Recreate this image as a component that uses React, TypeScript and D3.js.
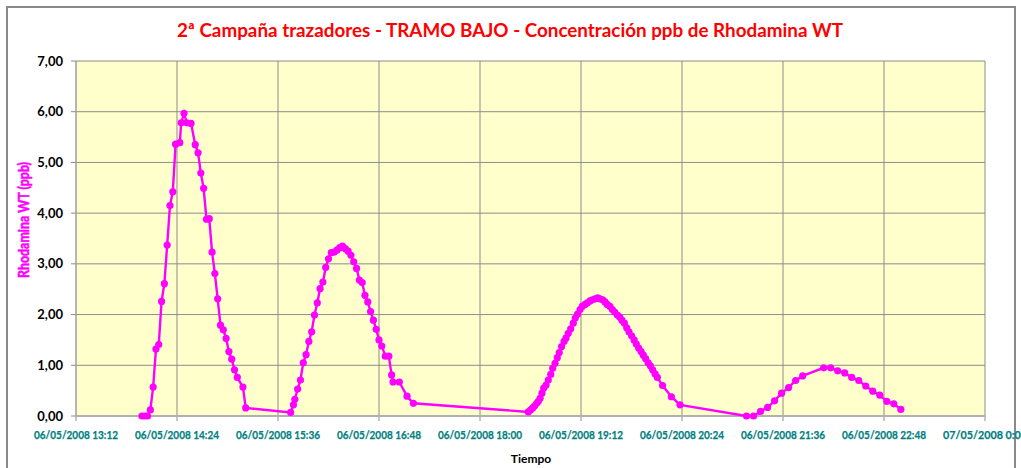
import React from 'react';
import * as d3 from 'd3';

// 2ª campaña trazadores, tramo bajo - Rhodamina WT (ppb), 06/05/2008
const tiempos = [
  '13:59', '14:01', '14:03', '14:05', '14:07', '14:09', '14:11', '14:13', '14:15', '14:17',
  '14:19', '14:21', '14:23', '14:26', '14:27', '14:29', '14:31', '14:34', '14:37', '14:39',
  '14:41', '14:43', '14:45', '14:47', '14:49', '14:51', '14:53', '14:55', '14:57', '14:59',
  '15:01', '15:03', '15:05', '15:07', '15:11', '15:13',
  '15:45', '15:47', '15:48', '15:50', '15:52', '15:54', '15:56', '15:58', '16:00', '16:02',
  '16:04', '16:06', '16:08', '16:10', '16:12', '16:14', '16:16', '16:18', '16:20', '16:22',
  '16:24', '16:26', '16:28', '16:30', '16:32', '16:34', '16:36', '16:38', '16:40', '16:42',
  '16:44', '16:46', '16:48', '16:50', '16:52:30', '16:55', '16:57', '16:58', '17:02:30', '17:08',
  '17:12:30',
  '18:34:25', '18:36:05', '18:37:35', '18:39:00', '18:40:25', '18:41:35', '18:42:50', '18:44:10',
  '18:45:25', '18:47:05', '18:48:40', '18:50:25', '18:51:50', '18:53:30', '18:55:05', '18:56:30',
  '18:58:10', '18:59:55', '19:01:20', '19:02:55', '19:04:40', '19:06:30', '19:07:55', '19:09:35',
  '19:11:20', '19:12:55', '19:14:50', '19:16:30', '19:18:25', '19:20:05', '19:22:00', '19:23:55',
  '19:25:30', '19:27:30', '19:29:05', '19:30:40', '19:32:40', '19:34:20', '19:36:00', '19:37:55',
  '19:39:35', '19:41:10', '19:42:55', '19:44:35', '19:46:10', '19:48:05', '19:49:50', '19:51:25',
  '19:53:05', '19:54:50', '19:56:25', '19:58:05', '19:59:50', '20:01:25', '20:03:05', '20:04:50',
  '20:06:25', '20:10:10', '20:16:25', '20:22:35',
  '21:10', '21:15', '21:20', '21:25', '21:30', '21:35', '21:40', '21:45', '21:50', '22:05',
  '22:10', '22:15', '22:20', '22:25', '22:30', '22:35', '22:40', '22:45', '22:50', '22:55',
  '23:00',
];

const rhodamina = [
  0.00, 0.00, 0.00, 0.12, 0.57, 1.32, 1.41, 2.26, 2.61, 3.37,
  4.15, 4.42, 5.36, 5.39, 5.78, 5.97, 5.78, 5.77, 5.35, 5.19,
  4.79, 4.49, 3.88, 3.89, 3.23, 2.81, 2.31, 1.79, 1.70, 1.53,
  1.27, 1.12, 0.91, 0.76, 0.57, 0.16,
  0.07, 0.22, 0.33, 0.53, 0.71, 1.05, 1.21, 1.47, 1.66, 1.99,
  2.23, 2.51, 2.64, 2.93, 3.10, 3.22, 3.23, 3.27, 3.32, 3.35,
  3.30, 3.25, 3.17, 3.04, 2.91, 2.68, 2.63, 2.38, 2.25, 2.06,
  1.89, 1.71, 1.50, 1.38, 1.18, 1.18, 0.81, 0.67, 0.67, 0.39,
  0.25,
  0.08, 0.12, 0.16, 0.20, 0.25, 0.29, 0.35, 0.45,
  0.55, 0.61, 0.71, 0.82, 0.94, 1.04, 1.15, 1.25,
  1.37, 1.47, 1.54, 1.63, 1.72, 1.83, 1.93, 2.01,
  2.10, 2.16, 2.20, 2.23, 2.27, 2.29, 2.31, 2.33,
  2.31, 2.29, 2.25, 2.20, 2.16, 2.10, 2.05, 1.99,
  1.95, 1.89, 1.83, 1.74, 1.66, 1.58, 1.50, 1.42,
  1.34, 1.27, 1.20, 1.13, 1.05, 0.99, 0.91, 0.83,
  0.76, 0.60, 0.38, 0.22,
  0.00, 0.00, 0.09, 0.17, 0.30, 0.45, 0.56, 0.70, 0.79, 0.95,
  0.95, 0.89, 0.85, 0.76, 0.70, 0.59, 0.49, 0.41, 0.29, 0.24,
  0.13,
];

const xTickLabels = [
  '06/05/2008 13:12', '06/05/2008 14:24', '06/05/2008 15:36', '06/05/2008 16:48',
  '06/05/2008 18:00', '06/05/2008 19:12', '06/05/2008 20:24', '06/05/2008 21:36',
  '06/05/2008 22:48', '07/05/2008 0:00',
];
const yTicks = [0, 1, 2, 3, 4, 5, 6, 7];

const titulo = '2ª Campaña trazadores - TRAMO BAJO - Concentración ppb de Rhodamina WT';

const W = 1021;
const H = 468;
const margin = {left: 76, right: 36, top: 61, bottom: 52};
const font = 'Lato, "Liberation Sans", sans-serif';

const parseTick = d3.timeParse('%d/%m/%Y %H:%M');
const parseHora = (t: string) => {
  const [h, m, s] = t.split(':').map(Number);
  return new Date(2008, 4, 6, h, m, s || 0);
};
const fmtY = d3.formatLocale({decimal: ',', thousands: '.', grouping: [3], currency: ['', '€']}).format('.2f');

export default function App() {
  const ticks = xTickLabels.map((l) => parseTick(l) as Date);
  const x = d3.scaleTime()
    .domain([ticks[0], ticks[ticks.length - 1]])
    .range([margin.left, W - margin.right]);
  const y = d3.scaleLinear().domain([0, 7]).range([H - margin.bottom, margin.top]);

  const puntos = tiempos.map((t, i) => ({t: parseHora(t), v: rhodamina[i]}));
  const linea = d3.line<{t: Date; v: number}>()
    .x((d) => x(d.t))
    .y((d) => y(d.v));

  const [x0, x1] = x.range();
  const [y0, y1] = y.range();
  const grid = '#8c8c8c';

  return (
    <svg width={W} height={H} style={{position: 'absolute', left: 0, top: 0, background: '#fff'}}>
      <rect x={7} y={7} width={1008} height={480} fill="#fff" stroke="#8a8a8a" strokeWidth={2} />
      <text x={510} y={37} textAnchor="middle" fill="#ff0000" fontFamily={font} fontWeight="bold"
        fontSize={19} textLength={666} lengthAdjust="spacingAndGlyphs">{titulo}</text>

      <rect x={x0} y={y1} width={x1 - x0} height={y0 - y1} fill="#ffffcc" />
      {yTicks.map((v) => (
        <line key={'gy' + v} x1={x0} x2={x1} y1={y(v)} y2={y(v)} stroke={grid} strokeWidth={1} />
      ))}
      {ticks.map((t, i) => (
        <line key={'gx' + i} x1={x(t)} x2={x(t)} y1={y1} y2={y0 + 5} stroke={grid} strokeWidth={1} />
      ))}
      <line x1={x0} x2={x1} y1={y0} y2={y0} stroke="#b0b0b0" strokeWidth={2} />
      <line x1={x0} x2={x0} y1={y1} y2={y0} stroke="#b0b0b0" strokeWidth={1.5} />

      {yTicks.map((v) => (
        <g key={'ty' + v}>
          <line x1={x0 - 5} x2={x0} y1={y(v)} y2={y(v)} stroke={grid} />
          <text x={63} y={y(v)} dy="0.35em" textAnchor="end" fontFamily={font} fontWeight="bold"
            fontSize={13} fill="#000">{fmtY(v)}</text>
        </g>
      ))}
      {ticks.map((t, i) => (
        <text key={'tx' + i} x={x(t)} y={439} textAnchor="middle" fontFamily={font} fontWeight="bold"
          fontSize={11.5} textLength={84} lengthAdjust="spacingAndGlyphs" fill="#008080"
          stroke="#008080" strokeWidth={0.25}>{xTickLabels[i]}</text>
      ))}

      <text transform={`translate(29,220) rotate(-90)`} textAnchor="middle" fontFamily={font}
        fontWeight="bold" fontSize={16} textLength={116} lengthAdjust="spacingAndGlyphs"
        fill="#ff00ff" stroke="#ff00ff" strokeWidth={0.6}>Rhodamina WT (ppb)</text>
      <text x={531} y={463} textAnchor="middle" fontFamily={font} fontWeight="bold" fontSize={12}
        fill="#000">Tiempo</text>

      <path d={linea(puntos) || ''} fill="none" stroke="#ff00ff" strokeWidth={2.4} />
      {puntos.map((d, i) => (
        <circle key={i} cx={x(d.t)} cy={y(d.v)} r={3.6} fill="#ff00ff" />
      ))}
    </svg>
  );
}
